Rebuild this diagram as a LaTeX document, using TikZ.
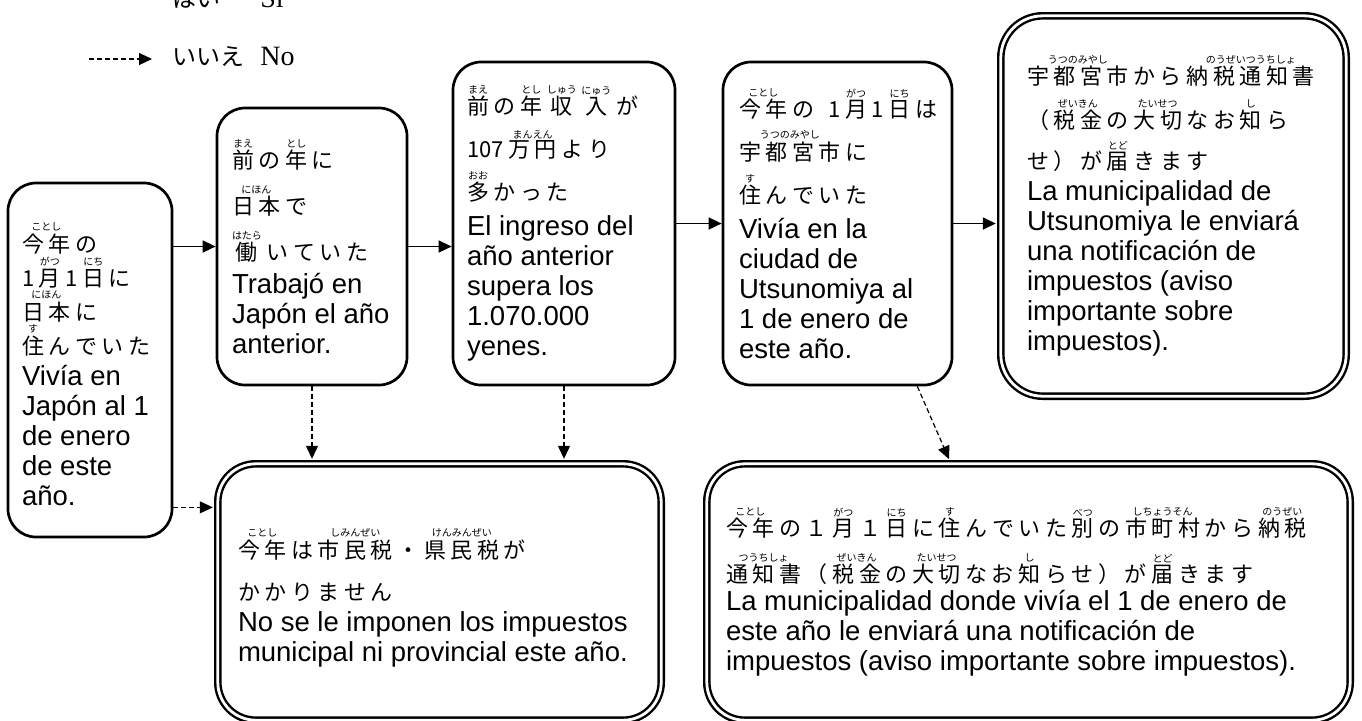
\documentclass[tikz,border=0pt]{standalone}
\usepackage{fontspec}
\usetikzlibrary{arrows.meta,positioning}

\newfontfamily\esfont{Liberation Sans}
\newfontfamily\lgfont{Liberation Serif}
\newfontfamily\jpfont{Noto Sans CJK JP}

% furigana over a base text
\newcommand\rb[2]{\leavevmode\vbox{\offinterlineskip\halign{\hfil##\hfil\cr{\jpfont\fontsize{5pt}{5pt}\selectfont #2}\cr\noalign{\kern1.2pt}#1\cr}}}

% spaced japanese line
\makeatletter
\newcommand\jpk{\kern2.3pt}
\newcommand\jsp[1]{\jsp@a#1\jsp@stop}
\def\jsp@stop{-jsp-stop-}
\def\jsp@a{\futurelet\jsp@tok\jsp@b}
\def\jsp@b{%
  \ifx\jsp@tok\jsp@stop\let\jsp@n\jsp@end
  \else\ifx\jsp@tok\rb\let\jsp@n\jsp@r
  \else\let\jsp@n\jsp@c\fi\fi
  \jsp@n}
\def\jsp@end\jsp@stop{\unkern}
\def\jsp@r\rb#1#2{\rb{\jsp{#1}}{#2}\jpk\jsp@a}
\def\jsp@c#1{#1\jpk\jsp@a}
\makeatother
\newcommand\jp[1]{{\jpfont\fontsize{11pt}{15pt}\selectfont\jsp{#1}}}
\newcommand\esset{\esfont\fontsize{13.75pt}{15pt}\selectfont}

\tikzset{
  box/.style={draw, line width=1.35pt, rounded corners=14pt, inner sep=0pt},
  dbox/.style={draw, line width=1.2pt, double, double distance=1.4pt, rounded corners=19pt, inner sep=0pt},
  txt/.style={align=left, inner sep=0pt, font=\esset},
  lg/.style={inner sep=0pt, font=\lgfont\fontsize{14pt}{16pt}\selectfont},
  yes/.style={-{Triangle[length=6.5pt,width=6pt]}, line width=0.75pt},
  no/.style={-{Triangle[length=6.5pt,width=6pt]}, line width=0.6pt, dash pattern=on 2.5pt off 1.5pt},
}

\begin{document}
\lineskiplimit=-20pt\relax
\lineskip=0pt\relax
\begin{tikzpicture}[x=0.5pt, y=-0.5pt]

\useasboundingbox (0,0) rectangle (1362,720);

% legend
\coordinate (lgs) at (89,59);
\coordinate (lge) at (152,59);
\draw[no] (lgs) -- (lge);
\node[lg, anchor=base west] (lgyes) at (172,7) {{\jpfont\fontsize{12pt}{14pt}\selectfont はい}\hspace{20pt}Sí};
\node[lg, anchor=base west] (lgno) at (172,65) {{\jpfont\fontsize{12pt}{14pt}\selectfont いいえ}\hspace{8pt}No};

% question boxes
\node[box, minimum width=82pt, minimum height=177pt] (b1) at (90,360) {};
\node[txt, right=7.5pt of b1.west, yshift=-2pt] (t1) {%
  \jp{\rb{今年}{ことし}の}\\[2pt]
  \jp{1\rb{月}{がつ}1\rb{日}{にち}に}\\[2pt]
  \jp{\rb{日本}{にほん}に}\\[2pt]
  \jp{\rb{住}{す}んでいた}\\[0.5pt]
  Vivía en\\ Japón al 1\\ de enero\\ de este\\ año.};

\node[box, minimum width=95pt, minimum height=138.5pt] (b2) at (312,246.5) {};
\node[txt, right=8pt of b2.west] (t2) {%
  \jp{\rb{前}{まえ}の\rb{年}{とし}に}\\[8pt]
  \jp{\rb{日本}{にほん}で}\\[8pt]
  \jp{\rb{働}{はたら}いていた}\\[1.5pt]
  Trabajó en\\ Japón el año\\ anterior.};

\node[box, minimum width=111pt, minimum height=161.5pt] (b3) at (564,223.5) {};
\node[txt, right=7.5pt of b3.west] (t3) {%
  \jp{\rb{前}{まえ}の\rb{年}{とし}\rb{収}{しゅう}\rb{入}{にゅう}が}\\[6.5pt]
  \jp{{107}\rb{万円}{まんえん}より}\\[6.5pt]
  \jp{\rb{多}{おお}かった}\\[2.5pt]
  El ingreso del\\ año anterior\\ supera los\\ 1.070.000\\ yenes.};

\node[box, minimum width=114.5pt, minimum height=161.5pt] (b4) at (837.5,223.5) {};
\node[txt, right=8.5pt of b4.west] (t4) {%
  \jp{\rb{今年}{ことし}の\ 1\rb{月}{がつ}1\rb{日}{にち}は}\\[6.5pt]
  \jp{\rb{宇都宮市}{うつのみやし}に}\\[6.5pt]
  \jp{\rb{住}{す}んでいた}\\[2.5pt]
  Vivía en la\\ ciudad de\\ Utsunomiya al\\ 1 de enero de\\ este año.};

% result boxes
\node[dbox, rounded corners=21pt, minimum width=172.7pt, minimum height=190.2pt] (b5) at (1173.5,206) {};
\node[txt, right=13.5pt of b5.west] (t5) {%
  \jp{\rb{宇都宮市}{うつのみやし}から\rb{納税通知書}{のうぜいつうちしょ}}\\[7pt]
  \jp{（\rb{税金}{ぜいきん}の\rb{大切}{たいせつ}なお\rb{知}{し}ら}\\[5.5pt]
  \jp{せ）が\rb{届}{とど}きます}\\[0.5pt]
  La municipalidad de\\ Utsunomiya le enviará\\ una notificación de\\ impuestos (aviso\\ importante sobre\\ impuestos).};

\node[dbox, minimum width=221.7pt, minimum height=128.2pt] (bL) at (439.5,592) {};
\node[txt, right=10.5pt of bL.west, yshift=-3pt] (tL) {%
  \jp{\rb{今年}{ことし}は\rb{市民税}{しみんぜい}・\rb{県民税}{けんみんぜい}が}\\[6pt]
  \jp{かかりません}\\[0.5pt]
  No se le imponen los impuestos\\ municipal ni provincial este año.};

\node[dbox, minimum width=321.7pt, minimum height=128.2pt] (bR) at (1028.5,592) {};
\node[txt, right=10pt of bR.west] (tR) {%
  \jp{\rb{今年}{ことし}の１\rb{月}{がつ}１\rb{日}{にち}に\rb{住}{す}んでいた\rb{別}{べつ}の\rb{市町村}{しちょうそん}から\rb{納税}{のうぜい}}\\[8pt]
  \jp{\rb{通知書}{つうちしょ}（\rb{税金}{ぜいきん}の\rb{大切}{たいせつ}なお\rb{知}{し}らせ）が\rb{届}{とど}きます}\\[-1pt]
  La municipalidad donde vivía el 1 de enero de\\ este año le enviará una notificación de\\ impuestos (aviso importante sobre impuestos).};

% yes arrows
\draw[yes] (b1.east |- b2.west) -- (b2.west);
\draw[yes] (b2.east) -- (b2.east -| b3.west);
\draw[yes] (b3.east) -- (b3.east -| b4.west);
\draw[yes, shorten >=1.9pt] (b4.east) -- (b4.east -| b5.west);

% no arrows
\coordinate (n1) at ([yshift=15.5pt]b1.south east);
\coordinate (n4) at ([xshift=-18pt]b4.south east);
\coordinate (m4) at ([xshift=-39pt]bR.north);
\draw[no, shorten >=1.9pt] (n1) -- (n1 -| bL.west);
\draw[no, shorten >=1.9pt] (b2.south) -- (b2.south |- bL.north);
\draw[no, shorten >=1.9pt] (b3.south) -- (b3.south |- bL.north);
\draw[no, shorten >=1.9pt] (n4) -- (m4);

\end{tikzpicture}
\end{document}
